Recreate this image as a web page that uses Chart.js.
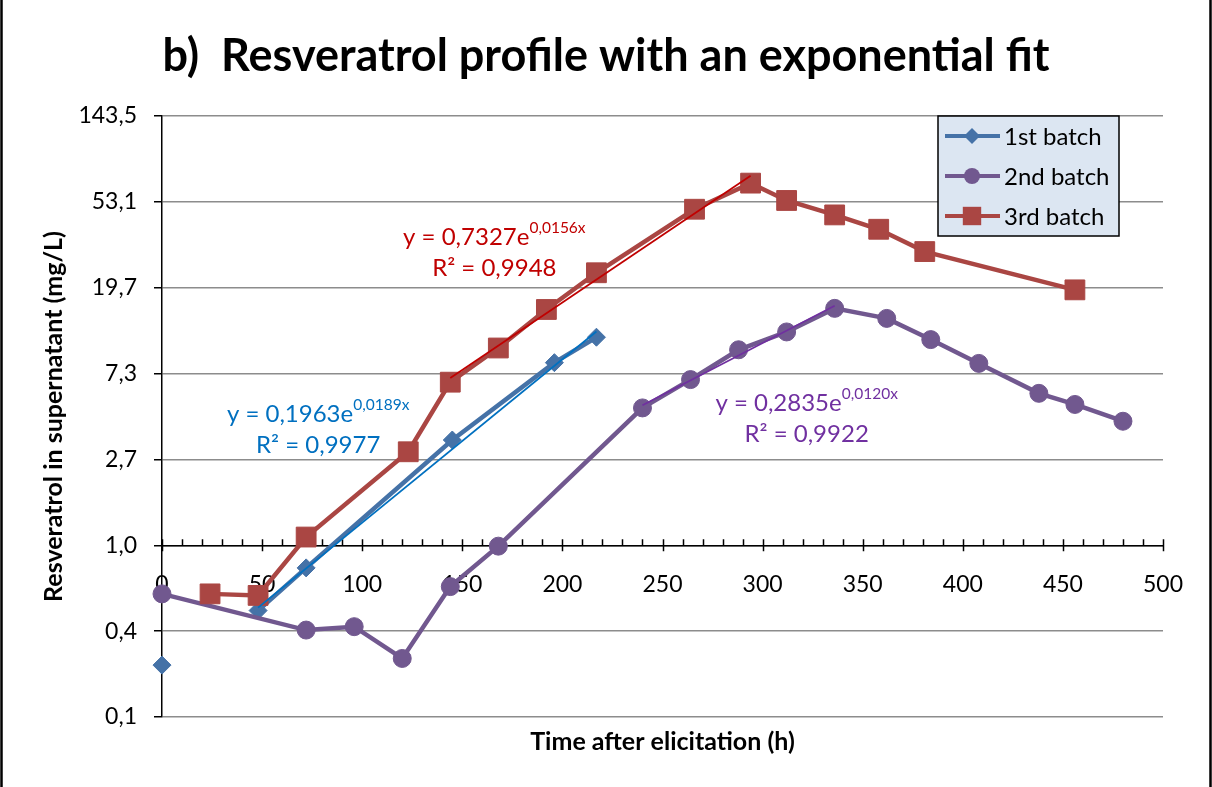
<!DOCTYPE html>
<html>
<head>
<meta charset="utf-8">
<script src="https://cdn.jsdelivr.net/npm/chart.js@4.4.1/dist/chart.umd.min.js"></script>
<style>
  html, body { margin: 0; padding: 0; background: #fff; }
  canvas { display: block; }
</style>
</head>
<body>
<canvas id="chart" width="1212" height="787"></canvas>
<script>
// time after elicitation (h) / resveratrol in supernatant (mg/L)
// (no 24 h sample for batch 1, so the line only starts at 48 h)
const batch1Time = [0, 24, 48, 72, 145, 196, 217];
const batch1Resv = [0.25, null, 0.47, 0.77, 3.38, 8.27, 11.1];

const batch2Time = [0, 72, 96, 120, 144, 168, 240, 264, 288, 312, 336, 362, 384, 408, 438, 456, 480];
const batch2Resv = [0.57, 0.375, 0.39, 0.27, 0.62, 0.99, 4.9, 6.8, 9.6, 11.8, 15.5, 13.8, 10.8, 8.2, 5.8, 5.1, 4.2];

const batch3Time = [24, 48, 72, 123, 144, 168, 192, 217, 266, 294, 312, 336, 358, 381, 456];
const batch3Resv = [0.57, 0.56, 1.1, 2.95, 6.6, 9.8, 15.3, 23.4, 48.8, 66, 54, 45.7, 38.7, 29.9, 19.2];

const batchNames = ['1st batch', '2nd batch', '3rd batch'];

// exponential trendlines y = a*e^(b*x), as printed on the chart
const fitA = [0.1963, 0.2835, 0.7327];
const fitB = [0.0189, 0.0120, 0.0156];
const fitR2 = ['0,9977', '0,9922', '0,9948'];
const fitFrom = [48, 240, 144];
const fitTo = [217, 336, 294];

// log axis with base 2.7, like the Excel sheet
const logBase = 2.7;
const yTickLabels = ['0,1', '0,4', '1,0', '2,7', '7,3', '19,7', '53,1', '143,5'];
const yFirstPow = -2;

const xTicks = [0, 50, 100, 150, 200, 250, 300, 350, 400, 450, 500];

const colors = ['#4572A7', '#71588F', '#AA4643'];
const fitColors = ['#0070C0', '#7030A0', '#C00000'];
const markers = ['rectRot', 'circle', 'rect'];
const markerSize = [9, 9, 14];
// where each equation sits (data units, centre of the first line)
const eqPos = [{x: 78, y: 4.57}, {x: 322, y: 5.19}, {x: 166, y: 35.4}];

const FONT = 'Lato';
const times = [batch1Time, batch2Time, batch3Time];
const values = [batch1Resv, batch2Resv, batch3Resv];

const datasets = [];
for (let i = 0; i < 3; i++) {
  datasets.push({
    label: batchNames[i],
    data: times[i].map(function (t, j) { return {x: t, y: values[i][j]}; }),
    xAxisID: 'x',
    yAxisID: 'y',
    showLine: true,
    spanGaps: false,
    borderColor: colors[i],
    backgroundColor: colors[i],
    borderWidth: 4.5,
    pointStyle: markers[i],
    pointRadius: markerSize[i],
    pointBorderWidth: 1,
    pointBorderColor: colors[i],
    pointBackgroundColor: colors[i],
    clip: false,
    order: 3 - i,
  });
}
for (let i = 0; i < 3; i++) {
  datasets.push({
    label: 'fit ' + batchNames[i],
    data: [fitFrom[i], fitTo[i]].map(function (t) {
      return {x: t, y: fitA[i] * Math.exp(fitB[i] * t)};
    }),
    xAxisID: 'x',
    yAxisID: 'y',
    showLine: true,
    borderColor: fitColors[i],
    borderWidth: 1.75,
    pointRadius: 0,
    clip: false,
    order: 0,
  });
}

function drawMarker(ctx, style, x, y, r, color) {
  ctx.fillStyle = color;
  ctx.beginPath();
  if (style === 'rectRot') {
    ctx.moveTo(x, y - r);
    ctx.lineTo(x + r, y);
    ctx.lineTo(x, y + r);
    ctx.lineTo(x - r, y);
    ctx.closePath();
  } else if (style === 'rect') {
    const h = r * Math.SQRT1_2;
    ctx.rect(x - h, y - h, 2 * h, 2 * h);
  } else {
    ctx.arc(x, y, r, 0, Math.PI * 2);
  }
  ctx.fill();
}

const extras = {
  id: 'extras',
  beforeDatasetsDraw(chart) {
    // minor ticks every 10 h pointing up, major ticks crossing the axis
    const ctx = chart.ctx;
    const xs = chart.scales.x;
    const py = chart.scales.y.getPixelForValue(1);
    ctx.save();
    ctx.strokeStyle = '#000';
    ctx.lineWidth = 1.5;
    ctx.beginPath();
    for (let v = 0; v <= 500; v += 10) {
      const px = Math.round(xs.getPixelForValue(v)) + 0.5;
      ctx.moveTo(px, py - 6);
      ctx.lineTo(px, v % 50 === 0 ? py + 6 : py);
    }
    ctx.stroke();
    ctx.restore();
  },
  afterDraw(chart) {
    const ctx = chart.ctx;
    const xs = chart.scales.x;
    const ys = chart.scales.y;
    const area = chart.chartArea;
    ctx.save();

    // trendline equations
    for (let i = 0; i < 3; i++) {
      const cx = xs.getPixelForValue(eqPos[i].x);
      const cy = ys.getPixelForValue(eqPos[i].y);
      const main = 'y = ' + fitA[i].toFixed(4).replace('.', ',') + 'e';
      const sup = fitB[i].toFixed(4).replace('.', ',') + 'x';
      ctx.fillStyle = fitColors[i];
      ctx.textBaseline = 'middle';
      ctx.textAlign = 'left';
      ctx.font = '24px ' + FONT;
      const w1 = ctx.measureText(main).width;
      ctx.font = '15.5px ' + FONT;
      const w2 = ctx.measureText(sup).width;
      const x0 = cx - (w1 + w2) / 2;
      ctx.font = '24px ' + FONT;
      ctx.fillText(main, x0, cy);
      ctx.font = '15.5px ' + FONT;
      ctx.fillText(sup, x0 + w1, cy - 9);
      ctx.font = '24px ' + FONT;
      ctx.textAlign = 'center';
      ctx.fillText('R² = ' + fitR2[i], cx, cy + 31);
    }

    // legend box inside the plot, top right
    const lx = area.right - 225;
    const ly = area.top;
    ctx.fillStyle = '#DCE6F2';
    ctx.fillRect(lx, ly, 181, 120);
    ctx.strokeStyle = '#000';
    ctx.lineWidth = 1.5;
    ctx.strokeRect(lx, ly, 181, 120);
    ctx.font = '24px ' + FONT;
    ctx.textAlign = 'left';
    ctx.textBaseline = 'middle';
    for (let i = 0; i < 3; i++) {
      const ry = ly + 20 + i * 40;
      ctx.strokeStyle = colors[i];
      ctx.lineWidth = 4;
      ctx.beginPath();
      ctx.moveTo(lx + 7, ry);
      ctx.lineTo(lx + 62, ry);
      ctx.stroke();
      drawMarker(ctx, markers[i], lx + 34, ry, markerSize[i] - 1, colors[i]);
      ctx.fillStyle = '#000';
      ctx.fillText(batchNames[i], lx + 66, ry + 1);
    }

    // frame of the picture
    ctx.strokeStyle = '#000';
    ctx.lineWidth = 2.5;
    ctx.beginPath();
    ctx.moveTo(1.5, 0);
    ctx.lineTo(1.5, chart.height);
    ctx.moveTo(chart.width - 1.5, 0);
    ctx.lineTo(chart.width - 1.5, chart.height);
    ctx.stroke();
    ctx.restore();
  },
};

const chart = new Chart(document.getElementById('chart'), {
  type: 'scatter',
  data: { datasets: datasets },
  plugins: [extras],
  options: {
    responsive: false,
    animation: false,
    layout: { padding: 0 },
    plugins: {
      legend: { display: false },
      tooltip: { enabled: false },
      title: {
        display: true,
        text: 'b)  Resveratrol profile with an exponential fit',
        color: '#000',
        font: { family: FONT, size: 45, weight: 'bold' },
        padding: { top: 29, bottom: 33 },
      },
    },
    scales: {
      x: {
        type: 'linear',
        axis: 'x',
        position: { y: 1 },
        min: 0,
        max: 500,
        border: { color: '#000', width: 1.5 },
        grid: { display: false },
        afterBuildTicks(scale) {
          scale.ticks = xTicks.map(function (v) { return {value: v}; });
        },
        ticks: {
          autoSkip: false,
          maxRotation: 0,
          padding: 17,
          color: '#000',
          font: { family: FONT, size: 23 },
        },
        afterFit(scale) {
          scale.paddingLeft = 0;
          scale.paddingRight = 0;
        },
      },
      xt: {
        type: 'linear',
        axis: 'x',
        position: 'bottom',
        min: 0,
        max: 500,
        grid: { display: false },
        border: { display: false },
        ticks: { display: false },
        title: {
          display: true,
          text: 'Time after elicitation (h)',
          color: '#000',
          font: { family: FONT, size: 25, weight: 'bold' },
          padding: { top: 0, bottom: 30 },
        },
        afterFit(scale) {
          scale.height = 70;
        },
      },
      y: {
        type: 'logarithmic',
        axis: 'y',
        position: 'left',
        min: Math.pow(logBase, yFirstPow),
        max: Math.pow(logBase, yFirstPow + yTickLabels.length - 1),
        afterBuildTicks(scale) {
          scale.ticks = yTickLabels.map(function (_, i) {
            return {value: Math.pow(logBase, yFirstPow + i)};
          });
        },
        ticks: {
          padding: 17,
          color: '#000',
          font: { family: FONT, size: 23 },
          callback: function (value, index) {
            return yTickLabels[index];
          },
        },
        grid: { color: '#8C8C8C', lineWidth: 1.5, tickColor: '#000', tickLength: 8 },
        border: { color: '#000', width: 1.5 },
        title: {
          display: true,
          text: 'Resveratrol in supernatant (mg/L)',
          color: '#000',
          font: { family: FONT, size: 25, weight: 'bold' },
          padding: { top: 39, bottom: 0 },
        },
        afterFit(scale) {
          scale.width = 162;
        },
      },
      yr: {
        type: 'linear',
        axis: 'y',
        position: 'right',
        grid: { display: false },
        border: { display: false },
        ticks: { display: false },
        afterFit(scale) {
          scale.width = 49;
        },
      },
    },
  },
});
</script>
</body>
</html>
